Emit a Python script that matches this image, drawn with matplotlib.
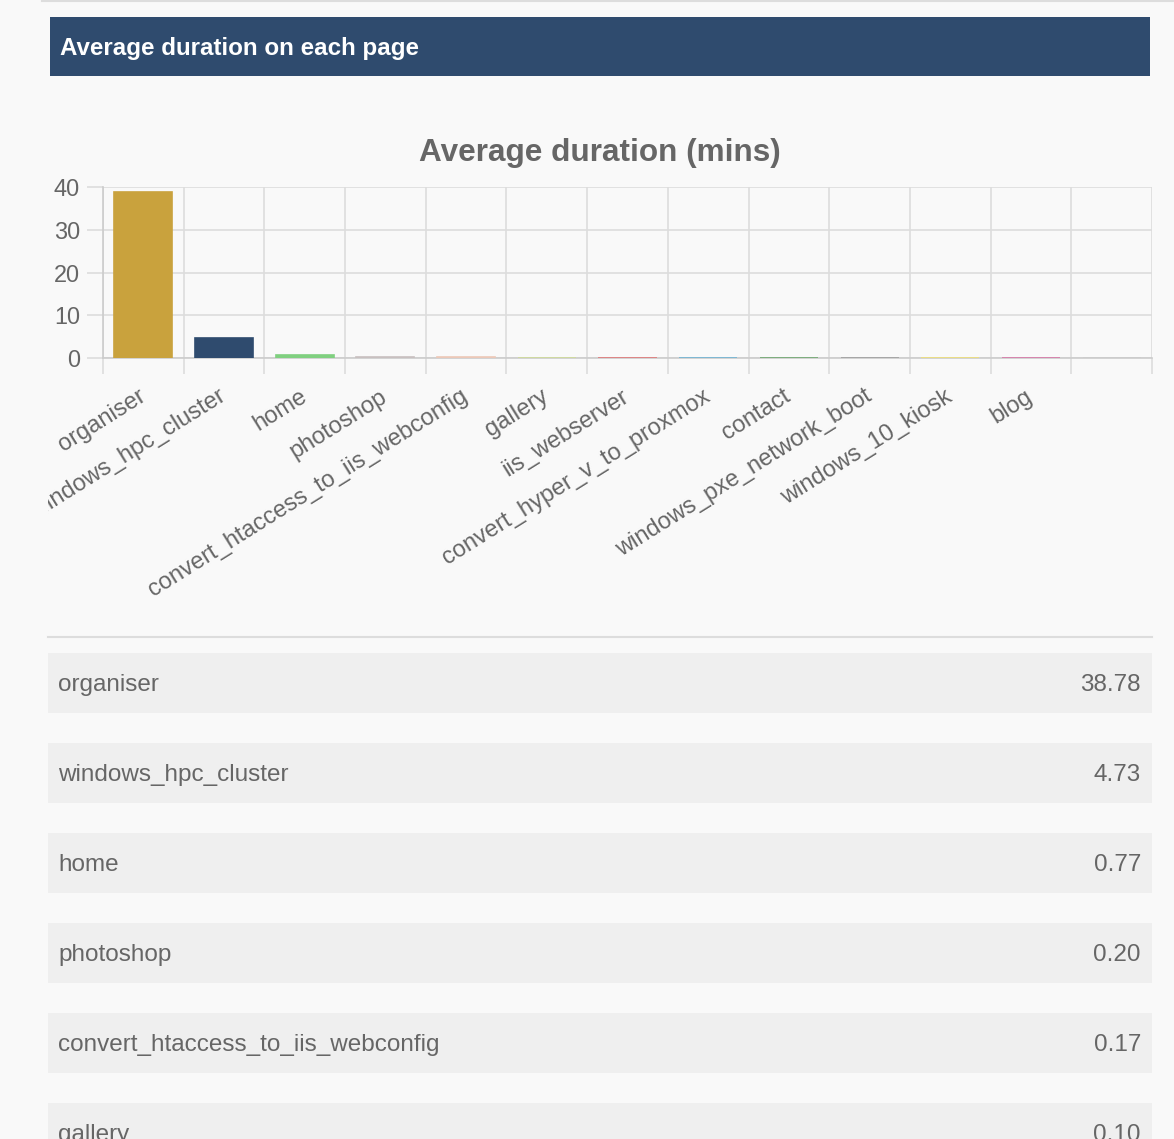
import matplotlib.pyplot as plt
from matplotlib.patches import Rectangle
from matplotlib.transforms import Bbox, TransformedBbox

plt.rcParams['font.family'] = ['Liberation Sans', 'DejaVu Sans']

W, H = 1174, 1139

pages = ['organiser', 'windows_hpc_cluster', 'home', 'photoshop',
         'convert_htaccess_to_iis_webconfig', 'gallery', 'iis_webserver',
         'convert_hyper_v_to_proxmox', 'contact', 'windows_pxe_network_boot',
         'windows_10_kiosk', 'blog', '']
durations = [38.78, 4.73, 0.77, 0.20, 0.17, 0.10, 0.09, 0.08, 0.07, 0.05, 0.04, 0.03, 0.0]
bar_colors = ['#c9a23d', '#2f4b6e', '#80d080', '#c8c0c0', '#ecc8b8', '#d0dc98',
              '#e07878', '#70b4d4', '#70a870', '#a0a0a0', '#f0e078', '#d878a8', '#cccccc']
table_rows = 6

text_gray = '#666666'
grid_gray = '#dddddd'


def fx(x):
    return x / W


def fy(y):
    return 1 - y / H


fig = plt.figure(figsize=(W / 100, H / 100), dpi=100)
fig.patch.set_facecolor('#f9f9f9')

# thin line at the very top
fig.add_artist(plt.Line2D([fx(42), fx(1174)], [fy(0.5), fy(0.5)], color='#dddddd', lw=1.5))

# header bar
fig.add_artist(Rectangle((fx(50), fy(76)), fx(1150) - fx(50), fy(17) - fy(76),
                         transform=fig.transFigure, facecolor='#2f4b6e', edgecolor='none'))
fig.text(fx(60), fy(48.5), 'Average duration on each page', color='white',
         fontsize=17.4, fontweight='bold', va='center', ha='left')

# chart title
fig.text(fx(600), fy(152.5), 'Average duration (mins)', color=text_gray,
         fontsize=22.7, fontweight='bold', ha='center', va='center')

# bar chart
ax = fig.add_axes([fx(103), fy(358), fx(1152) - fx(103), fy(187) - fy(358)])
ax.set_facecolor('#f9f9f9')
xs = list(range(len(pages)))
ax.bar(xs, durations, width=0.72, color=bar_colors, edgecolor=bar_colors,
       linewidth=1.2, zorder=3)
ax.set_xlim(-0.5, len(pages) - 0.5)
ax.set_ylim(0, 40)
ax.set_yticks([0, 10, 20, 30, 40])
ax.set_xticks([i - 0.5 for i in range(len(pages) + 1)])
ax.set_xticklabels([])
ax.set_xticks(xs, minor=True)
ax.set_xticklabels(pages, minor=True, rotation=32, ha='right', rotation_mode='anchor',
                   va='center', fontsize=17, color=text_gray)
ax.tick_params(axis='x', which='major', length=11.5, color=grid_gray, width=1.2)
ax.tick_params(axis='x', which='minor', length=0, pad=26.5)
ax.tick_params(axis='y', length=11.5, color=grid_gray, width=1.2, labelsize=16.9,
               labelcolor=text_gray, pad=5)
ax.grid(True, which='major', color=grid_gray, lw=1.2)
ax.set_axisbelow(True)
for s in ['top', 'right']:
    ax.spines[s].set_visible(False)
for s in ['left', 'bottom']:
    ax.spines[s].set_color('#cccccc')
    ax.spines[s].set_linewidth(1.2)

# the chart canvas starts at x=48, so long labels are cut there
canvas = TransformedBbox(Bbox([[fx(48), 0], [fx(1152), 1]]), fig.transFigure)
for lab in ax.get_xticklabels(minor=True):
    lab.set_clip_box(canvas)
    lab.set_clip_on(True)

# separator line above table
fig.add_artist(plt.Line2D([fx(48), fx(1152)], [fy(637), fy(637)], color='#dddddd', lw=1.5))

# table rows
for i in range(table_rows):
    top = 653 + i * 90
    fig.add_artist(Rectangle((fx(48), fy(top + 60)), fx(1152) - fx(48), fy(top) - fy(top + 60),
                             transform=fig.transFigure, facecolor='#efefef', edgecolor='none'))
    fig.text(fx(58), fy(top + 32), pages[i], color=text_gray, fontsize=17.5,
             ha='left', va='center')
    fig.text(fx(1141), fy(top + 32), f'{durations[i]:.2f}', color=text_gray, fontsize=17.5,
             ha='right', va='center')

fig.savefig('out.png', dpi=100, facecolor=fig.get_facecolor())
